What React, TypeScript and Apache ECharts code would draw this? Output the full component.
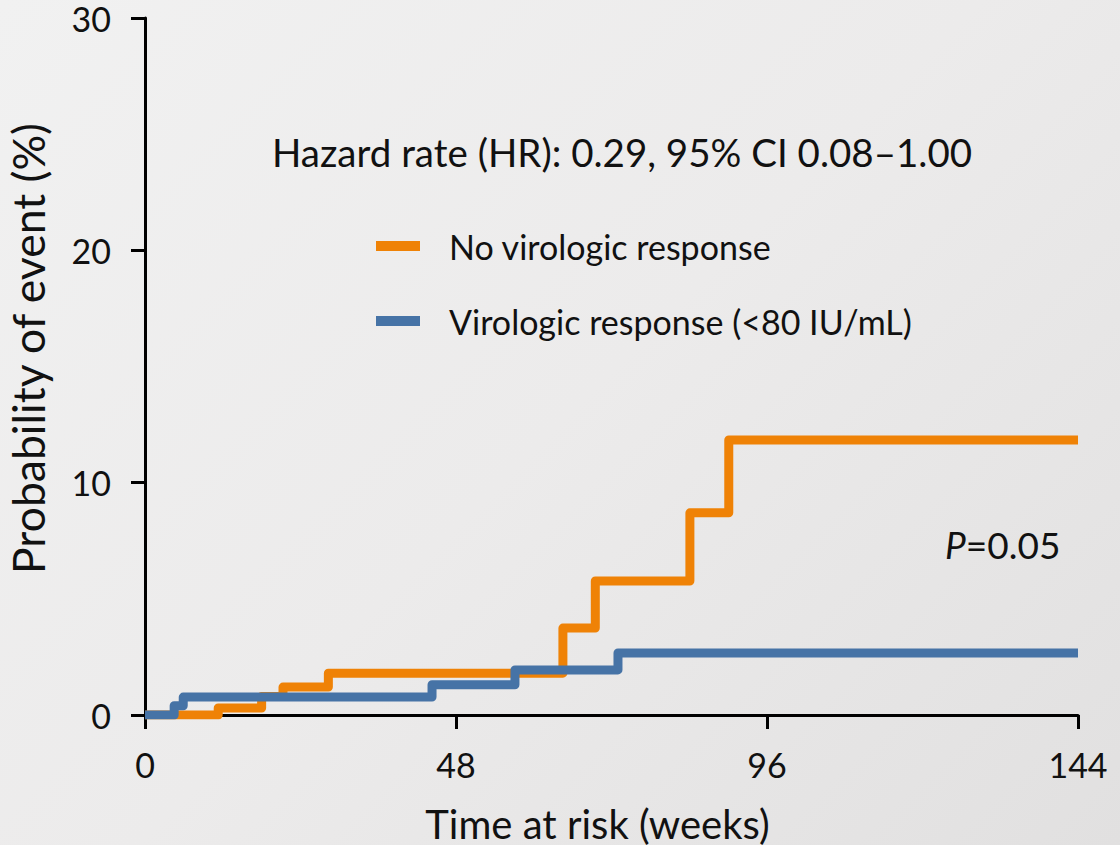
import React, { useEffect, useRef } from "react";
import * as echarts from "echarts";

const xTicks = [0, 48, 96, 144];
const yTicks = [0, 10, 20, 30];
const seriesNames = ["No virologic response", "Virologic response (<80 IU/mL)"];
const noResponse: [number, number][] = [
  [0, 0], [11.3, 0.3], [18, 0.8], [21.3, 1.2], [28.3, 1.8], [64.5, 3.74],
  [69.5, 5.77], [84.1, 8.7], [90.1, 11.84], [144, 11.84],
];
const response: [number, number][] = [
  [0, 0], [4.5, 0.4], [5.9, 0.77], [44.3, 1.3], [57.1, 1.94], [73, 2.67], [144, 2.67],
];
const hrText = "Hazard rate (HR): 0.29, 95% CI 0.08\u20131.00";
const pValue = "=0.05";

const FONT = "Lato";
const ORANGE = "#EF8206";
const BLUE = "#4673A6";

export default function App() {
  const ref = useRef<HTMLDivElement>(null);
  useEffect(() => {
    const chart = echarts.init(ref.current!, null, { renderer: "svg" });
    chart.setOption({
      animation: false,
      backgroundColor: "transparent",
      grid: { left: 145, right: 42, top: 18, bottom: 130, outerBoundsMode: "none", containLabel: false },
      xAxis: {
        type: "value",
        min: 0,
        max: 144,
        interval: 48,
        name: "Time at risk (weeks)",
        nameLocation: "middle",
        nameGap: 89,
        nameTextStyle: { fontFamily: FONT, fontSize: 40, color: "#111", padding: [0, 28, 0, 0] },
        axisLine: { lineStyle: { color: "#000", width: 3 } },
        axisTick: { show: true, length: 14, lineStyle: { color: "#000", width: 3 } },
        axisLabel: {
          fontFamily: FONT, fontSize: 34, color: "#111", margin: 32,
          formatter: (v: number) => (xTicks.includes(v) ? String(v) : ""),
        },
        splitLine: { show: false },
      },
      yAxis: {
        type: "value",
        min: 0,
        max: 30,
        interval: 10,
        name: "Probability of event (%)",
        nameLocation: "middle",
        nameGap: 95,
        nameRotate: 90,
        nameTextStyle: { fontFamily: FONT, fontSize: 44.5, color: "#111", padding: [0, 0, 0, 36] },
        axisLine: { show: true, lineStyle: { color: "#000", width: 3 } },
        axisTick: { show: true, length: 14, lineStyle: { color: "#000", width: 3 } },
        axisLabel: {
          fontFamily: FONT, fontSize: 34, color: "#111", margin: 34,
          formatter: (v: number) => (yTicks.includes(v) ? String(v) : ""),
        },
        splitLine: { show: false },
      },
      legend: {
        orient: "vertical",
        left: 371,
        top: 221,
        itemWidth: 44,
        itemHeight: 10,
        itemGap: 35,
        icon: "rect",
        data: seriesNames,
        textStyle: {
          fontFamily: FONT, fontSize: 34, color: "#111", lineHeight: 40,
          padding: [0, 0, 0, 24],
        },
      },
      graphic: [
        {
          type: "text",
          left: 272,
          top: 132,
          style: { text: hrText, fontFamily: FONT, fontSize: 38.5, fill: "#111" },
        },
        {
          type: "text",
          left: 945,
          top: 526,
          style: {
            text: "{i|P}{n|" + pValue + "}",
            rich: {
              i: { fontFamily: FONT, fontSize: 37, fontStyle: "italic", fill: "#111" },
              n: { fontFamily: FONT, fontSize: 37, fill: "#111" },
            },
          },
        },
      ],
      series: [
        {
          name: seriesNames[0],
          type: "line",
          step: "end",
          data: noResponse,
          showSymbol: false,
          color: ORANGE,
          lineStyle: { color: ORANGE, width: 9, join: "round" },
          z: 2,
        },
        {
          name: seriesNames[1],
          type: "line",
          step: "end",
          data: response,
          showSymbol: false,
          color: BLUE,
          lineStyle: { color: BLUE, width: 9, join: "round" },
          z: 3,
        },
      ],
    });
    return () => chart.dispose();
  }, []);
  return (
    <div
      style={{
        position: "fixed",
        left: 0,
        top: 0,
        width: 1120,
        height: 845,
        background: "linear-gradient(135deg, #F1F1F1 0%, #ECEBEB 50%, #E1E0E0 100%)",
      }}
    >
      <div ref={ref} style={{ width: 1120, height: 845 }} />
    </div>
  );
}
